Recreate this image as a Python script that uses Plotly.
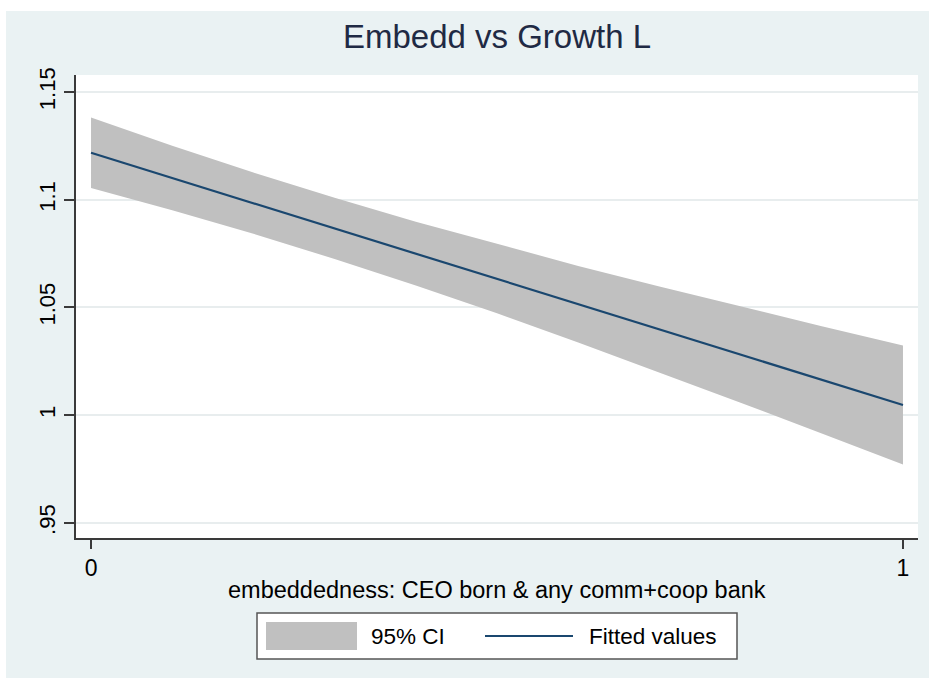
import plotly.graph_objects as go

# ---- data ----
x_vals = [0.0, 0.1, 0.2, 0.3, 0.4, 0.5, 0.6, 0.7, 0.8, 0.9, 1.0]
fitted = [1.1218, 1.1101, 1.0984, 1.0867, 1.0750, 1.0633, 1.0515, 1.0398, 1.0281, 1.0164, 1.0047]
ci_upper = [1.1382, 1.1251, 1.1126, 1.1009, 1.0898, 1.0794, 1.0693, 1.0597, 1.0504, 1.0413, 1.0323]
ci_lower = [1.1054, 1.0951, 1.0842, 1.0725, 1.0602, 1.0473, 1.0337, 1.0199, 1.0058, 0.9915, 0.9771]
y_tickvals = [0.95, 1.0, 1.05, 1.10, 1.15]
y_ticktext = [".95", "1", "1.05", "1.1", "1.15"]
x_tickvals = [0, 1]
x_ticktext = ["0", "1"]

title_text = "Embedd vs Growth L"
xaxis_title = "embeddedness: CEO born & any comm+coop bank"
legend_labels = ["95% CI", "Fitted values"]

# ---- styling ----
W, H = 929, 683
L, R, T, B = 76, 918, 75, 538          # plot area in pixels
FONT = "Liberation Sans, Arial, Helvetica, sans-serif"
BG = "#EAF2F3"
CI_COLOR = "#C0C0C0"
LINE_COLOR = "#1A476F"
TEXT_COLOR = "#000000"
AXIS_COLOR = "#3a3a3a"


def px(xp):
    return (xp - L) / (R - L)


def py(yp):
    return (B - yp) / (B - T)


fig = go.Figure()
fig.add_trace(go.Scatter(x=x_vals, y=ci_lower, mode="lines", line=dict(width=0, color=CI_COLOR),
                         showlegend=False, hoverinfo="skip"))
fig.add_trace(go.Scatter(x=x_vals, y=ci_upper, mode="lines", line=dict(width=0, color=CI_COLOR),
                         fill="tonexty", fillcolor=CI_COLOR, name=legend_labels[0], showlegend=False))
fig.add_trace(go.Scatter(x=x_vals, y=fitted, mode="lines", line=dict(width=2.2, color=LINE_COLOR),
                         name=legend_labels[1], showlegend=False))

shapes = [
    # outer graph region
    dict(type="rect", xref="paper", yref="paper", x0=px(6), x1=px(929), y0=py(678), y1=py(11),
         fillcolor=BG, line=dict(width=0), layer="below"),
    # plot region
    dict(type="rect", xref="paper", yref="paper", x0=0, x1=1, y0=0, y1=1,
         fillcolor="white", line=dict(width=0), layer="below"),
    # legend box
    dict(type="rect", xref="paper", yref="paper", x0=px(257), x1=px(737), y0=py(659), y1=py(613),
         fillcolor="white", line=dict(width=1.5, color="#555555"), layer="above"),
    # legend CI swatch
    dict(type="rect", xref="paper", yref="paper", x0=px(266), x1=px(357), y0=py(650), y1=py(622),
         fillcolor=CI_COLOR, line=dict(width=0), layer="above"),
    # legend fitted line
    dict(type="line", xref="paper", yref="paper", x0=px(485), x1=px(573), y0=py(636), y1=py(636),
         line=dict(width=2, color=LINE_COLOR), layer="above"),
]

annotations = [
    dict(text=xaxis_title, xref="paper", yref="paper", x=0.5, y=py(590), xanchor="center",
         yanchor="middle", showarrow=False, font=dict(family=FONT, size=23.5, color=TEXT_COLOR)),
    dict(text=legend_labels[0], xref="paper", yref="paper", x=px(369), y=py(636), xanchor="left",
         yanchor="middle", showarrow=False, font=dict(family=FONT, size=22.5, color=TEXT_COLOR)),
    dict(text=legend_labels[1], xref="paper", yref="paper", x=px(587), y=py(636), xanchor="left",
         yanchor="middle", showarrow=False, font=dict(family=FONT, size=22.5, color=TEXT_COLOR)),
]

fig.update_layout(
    width=W, height=H,
    margin=dict(l=L, r=W - R, t=T, b=H - B, pad=0),
    paper_bgcolor="white",
    plot_bgcolor="white",
    showlegend=False,
    font=dict(family=FONT, color=TEXT_COLOR),
    title=dict(text=title_text, x=px(497), xref="paper", xanchor="center",
               y=1 - 36 / H, yref="container", yanchor="middle",
               font=dict(family=FONT, size=33, color="#1F2A44")),
    shapes=shapes,
    annotations=annotations,
)

fig.update_xaxes(
    range=[-0.0185, 1.0185], tickvals=x_tickvals, ticktext=x_ticktext,
    showgrid=False, zeroline=False, showline=True, linecolor=AXIS_COLOR, linewidth=1.5,
    ticks="outside", ticklen=9, tickwidth=1.5, tickcolor=AXIS_COLOR,
    tickfont=dict(family=FONT, size=23, color=TEXT_COLOR),
)
fig.update_yaxes(
    range=[0.9430, 1.1579], tickvals=y_tickvals, ticktext=y_ticktext, tickangle=-90,
    showgrid=True, gridcolor="#E8EDEE", gridwidth=1.5, zeroline=False,
    showline=True, linecolor=AXIS_COLOR, linewidth=1.5,
    ticks="outside", ticklen=10, tickwidth=1.5, tickcolor=AXIS_COLOR,
    tickfont=dict(family=FONT, size=22, color=TEXT_COLOR),
)

fig.write_html("out.html")
